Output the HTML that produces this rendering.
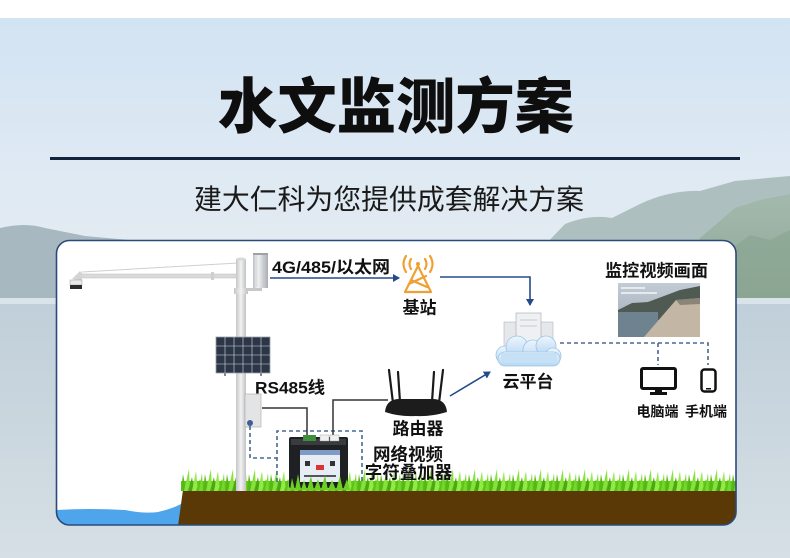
<!DOCTYPE html>
<html><head><meta charset="utf-8"><style>
html,body{margin:0;padding:0;width:790px;height:558px;overflow:hidden;background:#fff}
svg{display:block}
text{font-family:"Liberation Sans","Noto Sans CJK SC",sans-serif}
</style></head><body>
<svg width="790" height="558" viewBox="0 0 790 558" xmlns="http://www.w3.org/2000/svg">
<defs>
<linearGradient id="sky" x1="0" y1="0" x2="0" y2="1">
<stop offset="0" stop-color="#d2e3f3"/><stop offset="0.6" stop-color="#e0eaf3"/><stop offset="1" stop-color="#e4ecf1"/>
</linearGradient>
<linearGradient id="water" x1="0" y1="0" x2="0" y2="1">
<stop offset="0" stop-color="#c0cfd9"/><stop offset="1" stop-color="#d6dfe5"/>
</linearGradient>
<linearGradient id="mtn" x1="0" y1="0" x2="0" y2="1">
<stop offset="0" stop-color="#a3b9ad"/><stop offset="1" stop-color="#8ea897"/>
</linearGradient>
<linearGradient id="pole" x1="0" y1="0" x2="1" y2="0">
<stop offset="0" stop-color="#c4c6c8"/><stop offset="0.5" stop-color="#f2f2f2"/><stop offset="1" stop-color="#bfc1c3"/>
</linearGradient>
<linearGradient id="cyl" x1="0" y1="0" x2="1" y2="0">
<stop offset="0" stop-color="#b9bdc2"/><stop offset="0.3" stop-color="#f4f5f6"/><stop offset="0.6" stop-color="#d5d8db"/><stop offset="1" stop-color="#a9adb2"/>
</linearGradient>
<linearGradient id="cloud" x1="0" y1="0" x2="0" y2="1">
<stop offset="0" stop-color="#eef6fd"/><stop offset="1" stop-color="#b5d6f2"/>
</linearGradient>
<linearGradient id="pic" x1="0" y1="0" x2="0" y2="1">
<stop offset="0" stop-color="#c2ccd6"/><stop offset="1" stop-color="#9aa6b0"/>
</linearGradient>
<pattern id="grass" x="181" y="466" width="22" height="25" patternUnits="userSpaceOnUse">
<rect x="0" y="15" width="22" height="10" fill="#62c81c"/>
<path d="M0 25 L2 8 L5 25Z" fill="#55b815"/>
<path d="M3 25 L8 3 L9 25Z" fill="#86e23a"/>
<path d="M7 25 L11 11 L13 25Z" fill="#4aa812"/>
<path d="M11 25 L15 5 L17 25Z" fill="#93ea44"/>
<path d="M15 25 L19 13 L22 25Z" fill="#5cc418"/>
<path d="M18 25 L21 7 L22 25Z" fill="#74d82a"/>
</pattern>
<clipPath id="card"><rect x="56.5" y="240.5" width="679.5" height="284.5" rx="13"/></clipPath>
<marker id="ah" markerWidth="8" markerHeight="8" refX="6" refY="4" orient="auto" markerUnits="userSpaceOnUse">
<path d="M0 0 L7 4 L0 8Z" fill="#234a8c"/>
</marker>
</defs>

<!-- background -->
<rect width="790" height="558" fill="url(#water)"/>
<rect y="18" width="790" height="282" fill="url(#sky)"/>
<rect width="790" height="18" fill="#ffffff"/>
<path d="M540 300 L545 245 L565 224 Q590 214 612 218 L640 204 Q670 190 700 191 L735 181 L790 176 L790 300 Z" fill="#adbfbf"/>
<path d="M690 300 L700 238 L735 208 L760 200 L790 194 L790 300 Z" fill="url(#mtn)"/>
<path d="M720 300 L730 250 L750 235 L770 240 L790 230 L790 300 Z" fill="#88a38f" opacity="0.6"/>
<path d="M0 300 L0 228 Q25 222 45 228 L85 236 L130 240 L130 300 Z" fill="#a7b8c0"/>
<rect y="298" width="790" height="6" fill="#d9e3ea"/>
<rect y="304" width="790" height="254" fill="url(#water)"/>

<!-- title -->
<text x="396" y="128" text-anchor="middle" font-size="60" font-weight="900" fill="#0e0e0e" textLength="356" lengthAdjust="spacingAndGlyphs">水文监测方案</text>
<rect x="50" y="157" width="690" height="3" fill="#13223a"/>
<text x="389" y="209" text-anchor="middle" font-size="28" fill="#1a1a1a" textLength="390" lengthAdjust="spacingAndGlyphs">建大仁科为您提供成套解决方案</text>

<!-- card -->
<rect x="56.5" y="240.5" width="679.5" height="284.5" rx="13" fill="#ffffff"/>
<g clip-path="url(#card)">
<path d="M56 510 Q90 508 125 510 Q145 514 158 512 Q172 509 183 503 L180 526 L56 526 Z" fill="#4ea5ec"/>
<path d="M183 490 L737 490 L737 526 L178 526 Z" fill="#5b3906"/>
<rect x="181" y="466" width="556" height="25" fill="url(#grass)"/>
</g>
<rect x="56.5" y="240.5" width="679.5" height="284.5" rx="13" fill="none" stroke="#2b4a7c" stroke-width="1.6"/>

<!-- pole & arm -->
<line x1="82" y1="272" x2="238" y2="263" stroke="#cfcfcf" stroke-width="1"/>
<rect x="78" y="274" width="160" height="4" fill="#dadada" stroke="#bdbdbd" stroke-width="0.5"/>
<rect x="211" y="272" width="3" height="8" fill="#cfcfcf"/>
<path d="M72 279 L80 271 L82 273 L82 281 Z" fill="#d4d4d4"/>
<rect x="70" y="280" width="12" height="5" fill="#e8e8e8" stroke="#999" stroke-width="0.5"/>
<rect x="70" y="285" width="12" height="4" fill="#2b2b2b"/>
<rect x="236" y="259" width="10" height="232" fill="url(#pole)"/>
<ellipse cx="241" cy="259" rx="5" ry="1.5" fill="#d9d9d9"/>
<rect x="234" y="288" width="14" height="6" fill="url(#pole)"/>
<!-- sensor -->
<rect x="246" y="288" width="16" height="3" fill="#c8c8c8"/>
<rect x="253" y="253" width="15" height="35" fill="url(#cyl)"/>
<line x1="257" y1="255" x2="257" y2="287" stroke="#c4c8cc" stroke-width="0.6"/>
<line x1="263" y1="255" x2="263" y2="287" stroke="#c4c8cc" stroke-width="0.6"/>
<rect x="253" y="253" width="15" height="2" fill="#9da2a7"/>
<!-- solar panel -->
<rect x="216" y="337" width="54" height="36" fill="#2c3646" stroke="#9aa0a8" stroke-width="0.8"/>
<g stroke="#d8dde4" stroke-width="0.6">
<line x1="225" y1="337" x2="225" y2="373"/><line x1="234" y1="337" x2="234" y2="373"/><line x1="243" y1="337" x2="243" y2="373"/><line x1="252" y1="337" x2="252" y2="373"/><line x1="261" y1="337" x2="261" y2="373"/>
<line x1="216" y1="346" x2="270" y2="346"/><line x1="216" y1="355" x2="270" y2="355"/><line x1="216" y1="364" x2="270" y2="364"/>
</g>
<rect x="224" y="373" width="2" height="3" fill="#888"/><rect x="260" y="373" width="2" height="3" fill="#888"/>
<!-- control box -->
<rect x="245" y="394" width="16" height="33" fill="#e3e4e5" stroke="#a8a8a8" stroke-width="0.6"/>
<circle cx="250" cy="423" r="3" fill="#3d5f92"/>

<!-- dashed links -->
<g fill="none" stroke="#4a6890" stroke-width="1.6" stroke-dasharray="4 3">
<path d="M250 426 L250 458 L277 458"/>
<path d="M277 482 L277 431 L362 431 L362 482"/>
<path d="M560 343 L708 343 L708 365"/>
<path d="M658 343 L658 365"/>
</g>
<!-- RS485 solid lines -->
<g fill="none" stroke="#333" stroke-width="1.5">
<path d="M262 408 L307 408 L307 438"/>
<path d="M333 438 L333 400 L388 400"/>
</g>

<!-- device -->
<rect x="289" y="437" width="59" height="51" rx="2" fill="#1f2023"/>
<rect x="291" y="439" width="55" height="6" fill="#3a3b3e"/>
<rect x="303" y="435" width="13" height="6" fill="#3f8f3c"/>
<rect x="320" y="435" width="9" height="6" fill="#f0f0f0" stroke="#999" stroke-width="0.4"/>
<rect x="330" y="435" width="9" height="6" fill="#f0f0f0" stroke="#999" stroke-width="0.4"/>
<rect x="300" y="450" width="40" height="32" fill="#e6edf5"/>
<rect x="300" y="450" width="40" height="5" fill="#7f9cc4"/>
<rect x="305" y="461" width="5" height="5" fill="#333"/>
<rect x="330" y="461" width="5" height="5" fill="#333"/>
<rect x="316" y="465" width="8" height="5" fill="#d33"/>
<rect x="304" y="475" width="32" height="2" fill="#555"/>
<path d="M290 490 L292 478 L295 490 L298 474 L301 490 L304 480 L307 490 L311 476 L314 490 L318 479 L321 490 L325 475 L328 490 L332 480 L336 490 L340 476 L343 490 L347 479 L350 490 Z" fill="#6ccf22"/>

<!-- router -->
<g stroke="#1a1a1a" stroke-width="2.2" stroke-linecap="round">
<line x1="389" y1="370" x2="393" y2="403"/>
<line x1="398" y1="372" x2="400" y2="402"/>
<line x1="434" y1="372" x2="432" y2="402"/>
<line x1="443" y1="370" x2="439" y2="403"/>
</g>
<path d="M385 412 Q386 400 398 399 L434 399 Q446 400 447 412 Q430 417 416 416 Q400 417 385 412 Z" fill="#1c1c1c"/>

<!-- arrows -->
<line x1="270" y1="278" x2="399" y2="278" stroke="#234a8c" stroke-width="1.6" marker-end="url(#ah)"/>
<path d="M440 277 L530 277 L530 305" fill="none" stroke="#234a8c" stroke-width="1.6" marker-end="url(#ah)"/>
<line x1="450" y1="396" x2="490" y2="372" stroke="#234a8c" stroke-width="1.6" marker-end="url(#ah)"/>

<!-- tower -->
<g fill="none" stroke="#f0a032" stroke-width="2.2" stroke-linecap="round">
<path d="M418 266 L405 292 M418 266 L431 292 M405 292 L431 292 M409 284 L426 276 M411 280 L427 287"/>
<path d="M411 259 Q408 264 411 269 M425 259 Q428 264 425 269"/>
<path d="M406 256 Q401 264 406 272 M430 256 Q435 264 430 272"/>
</g>
<circle cx="418" cy="264" r="2" fill="#f0a032"/>

<!-- cloud platform -->
<rect x="504" y="322" width="14" height="26" fill="#e5e7ea" stroke="#b3b7bc" stroke-width="0.6"/>
<rect x="539" y="322" width="14" height="26" fill="#e5e7ea" stroke="#b3b7bc" stroke-width="0.6"/>
<rect x="516" y="313" width="25" height="35" fill="#eef0f2" stroke="#aeb3b8" stroke-width="0.7"/>
<line x1="520" y1="320" x2="537" y2="320" stroke="#c8ccd0"/><line x1="520" y1="326" x2="537" y2="326" stroke="#c8ccd0"/>
<g fill="url(#cloud)" stroke="#9cc4e6" stroke-width="0.8">
<circle cx="505" cy="355" r="9"/><circle cx="517" cy="347" r="11"/><circle cx="533" cy="350" r="10"/><circle cx="546" cy="346" r="10"/><circle cx="553" cy="356" r="8"/>
<rect x="498" y="352" width="62" height="14" rx="7"/>
</g>
<rect x="501" y="353" width="56" height="10" fill="#c6e0f5"/>

<!-- monitoring picture -->
<rect x="618" y="283" width="82" height="54" fill="url(#pic)"/>
<path d="M618 310 L632 303 L648 302 L664 296 L680 290 L700 286 L700 320 L618 320 Z" fill="#4f5b52"/>
<rect x="618" y="312" width="40" height="25" fill="#6f828f"/>
<path d="M644 337 L676 300 L700 298 L700 337 Z" fill="#c3b6a4"/>
<path d="M676 300 L700 298 L700 304 L680 305 Z" fill="#8a8578"/>
<rect x="621" y="287" width="24" height="2" fill="#f2f2f2" opacity="0.8"/>
<rect x="621" y="292" width="36" height="2" fill="#f2f2f2" opacity="0.8"/>

<!-- monitor & phone -->
<rect x="641.5" y="368.5" width="34" height="20" rx="1.5" fill="none" stroke="#111" stroke-width="3"/>
<rect x="655" y="389" width="7" height="4" fill="#111"/>
<rect x="650" y="392" width="17" height="3" fill="#111"/>
<rect x="701.5" y="369.5" width="14" height="22" rx="3" fill="none" stroke="#111" stroke-width="2.5"/>
<rect x="706" y="388" width="5" height="1.5" fill="#111"/>

<!-- labels -->
<g font-weight="bold" fill="#111">
<text x="272" y="273" font-size="17" textLength="118" lengthAdjust="spacingAndGlyphs">4G/485/以太网</text>
<text x="419.5" y="313.5" font-size="17" text-anchor="middle">基站</text>
<text x="528" y="387.5" font-size="17" text-anchor="middle">云平台</text>
<text x="656.5" y="276.5" font-size="17" text-anchor="middle" textLength="103" lengthAdjust="spacingAndGlyphs">监控视频画面</text>
<text x="255" y="393.5" font-size="17" textLength="70" lengthAdjust="spacingAndGlyphs">RS485线</text>
<text x="418" y="434.5" font-size="17" text-anchor="middle">路由器</text>
<text x="408" y="460.5" font-size="17.5" text-anchor="middle">网络视频</text>
<text x="408.5" y="478.5" font-size="17.5" text-anchor="middle">字符叠加器</text>
</g>
<g font-size="14" fill="#111" font-weight="bold">
<text x="657.5" y="416.3" text-anchor="middle">电脑端</text>
<text x="706" y="416.3" text-anchor="middle">手机端</text>
</g>
</svg>
</body></html>
